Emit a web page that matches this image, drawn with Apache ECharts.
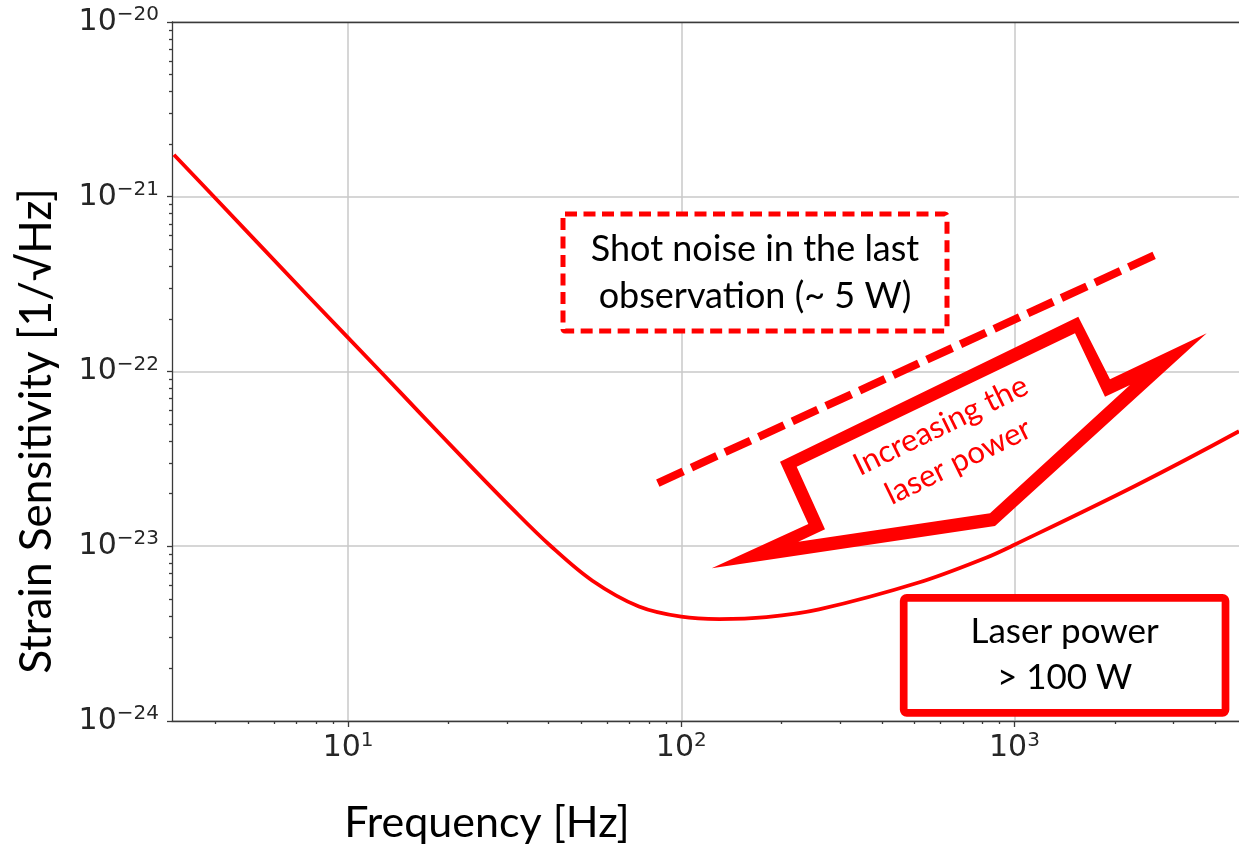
<!DOCTYPE html>
<html>
<head>
<meta charset="utf-8">
<title>Strain sensitivity vs frequency</title>
<script src="https://cdn.jsdelivr.net/npm/echarts@6/dist/echarts.min.js"></script>
<style>
  html, body { margin: 0; padding: 0; background: #fff; }
  #main { width: 1239px; height: 848px; }
</style>
</head>
<body>
<div id="main"></div>
<script>
// sensitivity curve (Hz , 1/sqrt(Hz))
var freq   = [3.0, 3.86, 7.52, 12.5, 16.4, 22.2, 31.3, 40.4, 54.1, 74.6, 100, 130, 180, 259, 516, 822, 1000, 2307, 4720];
var strain = [1.74e-21, 1.05e-21, 2.75e-22, 1.0e-22, 5.8e-23, 3.17e-23, 1.62e-23, 1.01e-23, 6.35e-24, 4.52e-24,
              3.95e-24, 3.83e-24, 3.93e-24, 4.35e-24, 6.2e-24, 8.6e-24, 1.02e-23, 2.22e-23, 4.55e-23];

// shot noise of the last observation (dashed line, two ends)
var shotFreq   = [85, 2735];
var shotStrain = [2.3e-23, 4.78e-22];

// ticks
var xMajor = [10, 100, 1000];
var xMinor = [4, 5, 6, 7, 8, 9, 20, 30, 40, 50, 60, 70, 80, 90,
              200, 300, 400, 500, 600, 700, 800, 900, 2000, 3000, 4000];
var yMajor = [1e-24, 1e-23, 1e-22, 1e-21, 1e-20];
var yMinor = [2e-24, 3e-24, 4e-24, 5e-24, 6e-24, 7e-24, 8e-24, 9e-24,
              2e-23, 3e-23, 4e-23, 5e-23, 6e-23, 7e-23, 8e-23, 9e-23,
              2e-22, 3e-22, 4e-22, 5e-22, 6e-22, 7e-22, 8e-22, 9e-22,
              2e-21, 3e-21, 4e-21, 5e-21, 6e-21, 7e-21, 8e-21, 9e-21];

var xMin = 2.96, xMax = 4720;
var yMin = 1e-24, yMax = 1e-20;

var RED = '#ff0000';
var TXT = 'Lato';

function pair(xs, ys) {
  return xs.map(function (x, i) { return [x, ys[i]]; });
}

// 10^n label with superscript
function powLabel(v) {
  var e = Math.round(Math.log10(v));
  return '{b|10}{s|' + (e < 0 ? '\u2212' + (-e) : e) + '}';
}
var powRich = {
  b: { fontFamily: 'DejaVu Sans', fontSize: 30, color: '#262626', lineHeight: 34 },
  s: { fontFamily: 'DejaVu Sans', fontSize: 20, color: '#262626', lineHeight: 20, verticalAlign: 'top' }
};

var spine = { color: '#3a3a3a', width: 1.3 };

var myChart = echarts.init(document.getElementById('main'));

var option = {
  animation: false,
  backgroundColor: '#fff',
  grid: { left: 172, top: 22, right: 0, bottom: 127 },
  xAxis: [
    {
      type: 'log', min: xMin, max: xMax, position: 'bottom',
      axisLine: { lineStyle: spine },
      axisTick: { customValues: xMajor, length: 6, lineStyle: spine },
      axisLabel: { customValues: xMajor, formatter: powLabel, margin: 10, rich: powRich },
      splitLine: { show: true, lineStyle: { color: '#c8c8c8', width: 1.5 } }
    },
    {
      type: 'log', min: xMin, max: xMax, position: 'bottom',
      axisLine: { show: false },
      axisTick: { customValues: xMinor, length: 3, lineStyle: spine },
      axisLabel: { show: false },
      splitLine: { show: false }
    },
    {
      type: 'log', min: xMin, max: xMax, position: 'top',
      axisLine: { lineStyle: spine },
      axisTick: { show: false },
      axisLabel: { show: false },
      splitLine: { show: false }
    }
  ],
  yAxis: [
    {
      type: 'log', min: yMin, max: yMax, position: 'left',
      axisLine: { show: true, lineStyle: spine },
      axisTick: { show: true, customValues: yMajor, length: 5, lineStyle: spine },
      axisLabel: { customValues: yMajor, formatter: powLabel, margin: 13, rich: powRich },
      splitLine: { show: true, lineStyle: { color: '#c8c8c8', width: 1.5 } }
    },
    {
      type: 'log', min: yMin, max: yMax, position: 'left',
      axisLine: { show: false },
      axisTick: { show: true, customValues: yMinor, length: 3, lineStyle: spine },
      axisLabel: { show: false },
      splitLine: { show: false }
    }
  ],
  series: [
    {
      name: 'sensitivity', type: 'line', xAxisIndex: 0, yAxisIndex: 0,
      data: pair(freq, strain), smooth: 0.35, showSymbol: false, z: 3,
      lineStyle: { color: RED, width: 3.8 }
    },
    {
      name: 'shot noise (~5 W)', type: 'line', xAxisIndex: 0, yAxisIndex: 0,
      data: pair(shotFreq, shotStrain), showSymbol: false, z: 3,
      lineStyle: { color: RED, width: 8, type: [28, 9], cap: 'butt' }
    }
  ],
  graphic: [
    // dashed note box
    { type: 'rect', z: 10, shape: { x: 563, y: 214, width: 384, height: 117, r: 2 },
      style: { fill: '#fff', stroke: RED, lineWidth: 5, lineDash: [12, 6.5] } },
    { type: 'text', z: 11, x: 755, y: 273,
      style: { text: 'Shot noise in the last\nobservation (~ 5 W)', fill: '#000', fontFamily: TXT, fontSize: 36,
               lineHeight: 47, align: 'center', verticalAlign: 'middle' } },
    // hollow arrow
    { type: 'polygon', z: 10,
      shape: { points: [[711.7, 568.3], [808.3, 524], [780, 461.7], [1078.3, 316.7], [1110, 379.3], [1206.7, 333.3], [995, 526]] },
      style: { fill: RED } },
    { type: 'polygon', z: 10,
      shape: { points: [[796.7, 466.7], [1075, 333.3], [1105, 396.7], [1130, 385], [990, 513.3], [798.3, 541.7], [825, 529.3]] },
      style: { fill: '#fff' } },
    { type: 'text', z: 11, x: 949.5, y: 443.5, rotation: 26 * Math.PI / 180,
      style: { text: 'Increasing the\nlaser power', fill: RED, fontFamily: TXT, fontSize: 31,
               lineHeight: 40, align: 'center', verticalAlign: 'middle' } },
    // solid note box
    { type: 'rect', z: 10, shape: { x: 903.7, y: 597.8, width: 321.8, height: 115, r: 3 },
      style: { fill: '#fff', stroke: RED, lineWidth: 7.7 } },
    { type: 'text', z: 11, x: 1064.6, y: 655,
      style: { text: 'Laser power\n> 100 W', fill: '#000', fontFamily: TXT, fontSize: 35,
               lineHeight: 46, align: 'center', verticalAlign: 'middle' } },
    // axis titles
    { type: 'text', z: 11, x: 487, y: 823,
      style: { text: 'Frequency [Hz]', fill: '#000', fontFamily: TXT, fontSize: 43,
               align: 'center', verticalAlign: 'middle' } },
    { type: 'text', z: 11, x: 37, y: 431, rotation: Math.PI / 2,
      style: { text: 'Strain Sensitivity [1/\u221AHz]', fill: '#000', fontFamily: TXT, fontSize: 44,
               align: 'center', verticalAlign: 'middle' } }
  ]
};

myChart.setOption(option);
</script>
</body>
</html>
